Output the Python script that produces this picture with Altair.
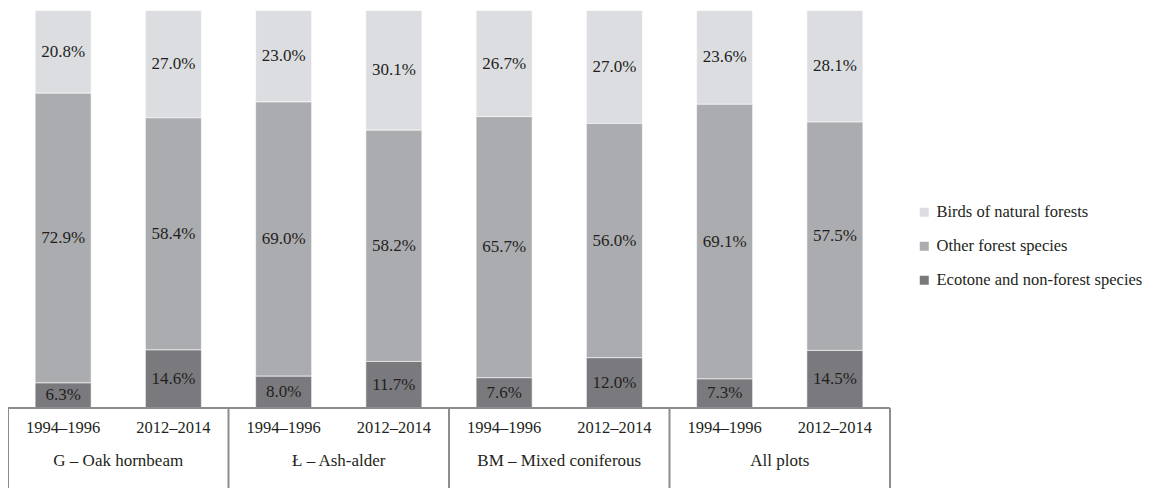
import altair as alt
import pandas as pd

groups = ["G – Oak hornbeam", "Ł – Ash-alder", "BM – Mixed coniferous", "All plots"]
periods = ["1994–1996", "2012–2014"]
categories = ["Birds of natural forests", "Other forest species", "Ecotone and non-forest species"]
birds = [20.8, 27.0, 23.0, 30.1, 26.7, 27.0, 23.6, 28.1]
other = [72.9, 58.4, 69.0, 58.2, 65.7, 56.0, 69.1, 57.5]
ecotone = [6.3, 14.6, 8.0, 11.7, 7.6, 12.0, 7.3, 14.5]
colors = ["#dcdde0", "#abacaf", "#7a7a7e"]

series = [birds, other, ecotone]
rows = []
for ci, (cat, vals) in enumerate(zip(categories, series)):
    for b, v in enumerate(vals):
        rows.append({"bar": b, "group": groups[b // 2], "period": periods[b % 2],
                     "category": cat, "ord": len(categories) - 1 - ci, "value": v})
df = pd.DataFrame(rows)

nbars = len(birds)
ymin = -0.2013
ymax = 1.0063
xscale = alt.Scale(domain=[0, nbars], range=[0, 882], nice=False, zero=False)
yscale = alt.Scale(domain=[ymin, ymax], nice=False, zero=False)
FONT = "Liberation Serif"
TXT = "#231f20"
LINE = "#8c8c90"

base = alt.Chart(df).transform_stack(
    stack="value", groupby=["bar"], as_=["y0", "y1"], offset="normalize",
    sort=[alt.SortField("ord", order="ascending")]
).transform_calculate(
    xa="datum.bar + 0.246", xb="datum.bar + 0.754", xm="datum.bar + 0.5",
    mid="(datum.y0 + datum.y1) / 2",
    label="format(datum.value, '.1f') + '%'"
)

bars = base.mark_rect(stroke="white", strokeWidth=0.6).encode(
    x=alt.X("xa:Q", scale=xscale, axis=None),
    x2="xb:Q",
    y=alt.Y("y0:Q", scale=yscale, axis=None),
    y2="y1:Q",
    color=alt.Color("category:N", scale=alt.Scale(domain=categories, range=colors),
                    legend=alt.Legend(title=None, orient="none", legendX=908, legendY=196,
                                      symbolType="square", symbolSize=81, symbolStrokeWidth=0,
                                      labelFont=FONT, labelFontSize=16.5, labelColor=TXT,
                                      labelLimit=400,
                                      labelOffset=4, rowPadding=17, padding=0)),
)

labels = base.mark_text(font=FONT, fontSize=17, color=TXT, baseline="middle").encode(
    x=alt.X("xm:Q", scale=xscale),
    y=alt.Y("mid:Q", scale=yscale),
    text="label:N",
)

# table below the bars
bar_df = pd.DataFrame({"bar": list(range(nbars)), "period": [periods[b % 2] for b in range(nbars)]})
grp_df = pd.DataFrame({"g": list(range(len(groups))), "group": groups})
bound_df = pd.DataFrame({"xb": [i * 2 for i in range(len(groups) + 1)]})
top_df = pd.DataFrame({"x0": [0], "x1": [nbars], "y": [0.0]})

top_line = alt.Chart(top_df).mark_rule(color=LINE, strokeWidth=2).encode(
    x=alt.X("x0:Q", scale=xscale), x2="x1:Q", y=alt.Y("y:Q", scale=yscale)
)
vlines = alt.Chart(bound_df).transform_calculate(ya="0", yb=str(ymin)).mark_rule(
    color=LINE, strokeWidth=2).encode(
    x=alt.X("xb:Q", scale=xscale), y=alt.Y("ya:Q", scale=yscale), y2="yb:Q"
)
year_text = alt.Chart(bar_df).transform_calculate(xm="datum.bar + 0.5", yy="-0.05").mark_text(
    font=FONT, fontSize=16.5, color=TXT, baseline="middle").encode(
    x=alt.X("xm:Q", scale=xscale), y=alt.Y("yy:Q", scale=yscale), text="period:N"
)
group_text = alt.Chart(grp_df).transform_calculate(xm="datum.g * 2 + 1", yy="-0.133").mark_text(
    font=FONT, fontSize=17, color=TXT, baseline="middle").encode(
    x=alt.X("xm:Q", scale=xscale), y=alt.Y("yy:Q", scale=yscale), text="group:N"
)

chart = alt.layer(bars, labels, top_line, vlines, year_text, group_text).properties(
    width=1136, height=480, padding=0, background="white",
    autosize=alt.AutoSizeParams(type="none")
).configure_view(strokeWidth=0, stroke="transparent")

chart.save("out.html", embed_options={"renderer": "svg", "actions": False})
